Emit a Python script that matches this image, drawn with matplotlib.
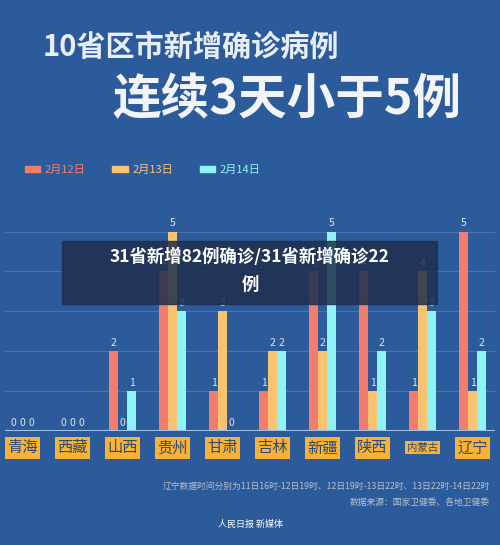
import matplotlib
matplotlib.use("Agg")
import matplotlib.pyplot as plt
import numpy as np
from matplotlib.patches import Rectangle

plt.rcParams['font.family'] = ['Noto Sans CJK SC', 'DejaVu Sans']

provinces = ['青海', '西藏', '山西', '贵州', '甘肃', '吉林', '新疆', '陕西', '内蒙古', '辽宁']
d12 = [0, 0, 2, 4, 1, 1, 4, 4, 1, 5]
d13 = [0, 0, 0, 5, 3, 2, 2, 1, 4, 1]
d14 = [0, 0, 1, 3, 0, 2, 5, 2, 3, 2]
series_names = ['2月12日', '2月13日', '2月14日']
colors = ['#f47c6c', '#f9c472', '#8ef4f6']

bg = '#2c5b9b'
fig = plt.figure(figsize=(5, 5.45), dpi=100, facecolor=bg)

fig.text(0.085, 0.915, '10省区市新增确诊病例', color='#e8eef8', fontsize=21, fontweight='bold', va='center')
fig.text(0.225, 0.818, '连续3天小于5例', color='#f2f4f8', fontsize=35, fontweight='heavy', va='center')

# legend
for i, (n, c) in enumerate(zip(series_names, colors)):
    x0 = 0.05 + i * 0.175
    fig.patches.append(Rectangle((x0, 0.684), 0.03, 0.011, transform=fig.transFigure, color=c))
    fig.text(x0 + 0.04, 0.689, n, color=c, fontsize=8, va='center')

ax = fig.add_axes([0.01, 0.209, 0.98, 0.41])
ax.set_facecolor(bg)
x = np.arange(len(provinces))
w = 0.18
for k, (vals, c) in enumerate(zip([d12, d13, d14], colors)):
    xs = x + (k - 1) * w
    ax.bar(xs, vals, width=w, color=c, zorder=3)
    for xi, v in zip(xs, vals):
        ax.text(xi, v + 0.08, str(v), ha='center', va='bottom', color='#e0e4ea', fontsize=7.5, zorder=4)
ax.set_xlim(-0.35, 9.45)
ax.set_ylim(0, 5.6)
for yv in range(1, 6):
    ax.axhline(yv, color='#4a72ad', lw=0.8, zorder=1)
ax.axhline(0, color='#9fc0e8', lw=1.5, zorder=4)
for s in ax.spines.values():
    s.set_visible(False)
ax.set_xticks([]); ax.set_yticks([])
for xi, p in zip(x, provinces):
    ax.text(xi, -0.42, p, ha='center', va='center', fontsize=11 if len(p) == 2 else 7.5,
            color='#2c4a7a', bbox=dict(boxstyle='square,pad=0.15', fc='#f9b233', ec='none'),
            clip_on=False)

fig.text(0.98, 0.107, '辽宁数据时间分别为11日16时-12日19时、12日19时-13日22时、13日22时-14日22时',
         ha='right', va='center', color='#b9bfc9', fontsize=6.3)
fig.text(0.98, 0.078, '数据来源：国家卫健委、各地卫健委', ha='right', va='center', color='#b9bfc9', fontsize=6.3)
fig.text(0.5, 0.038, '人民日报 新媒体', ha='center', va='center', color='white', fontsize=6.5)

# overlay caption
fig.patches.append(Rectangle((0.124, 0.442), 0.75, 0.116, transform=fig.transFigure,
                             color='#1e2f4c', alpha=0.85, zorder=10))
fig.text(0.5, 0.528, '31省新增82例确诊/31省新增确诊22', ha='center', va='center', color='white',
         fontsize=12.5, fontweight='bold', zorder=11)
fig.text(0.5, 0.478, '例', ha='center', va='center', color='white', fontsize=12.5, fontweight='bold', zorder=11)

fig.savefig('out.png', dpi=100, facecolor=bg)
